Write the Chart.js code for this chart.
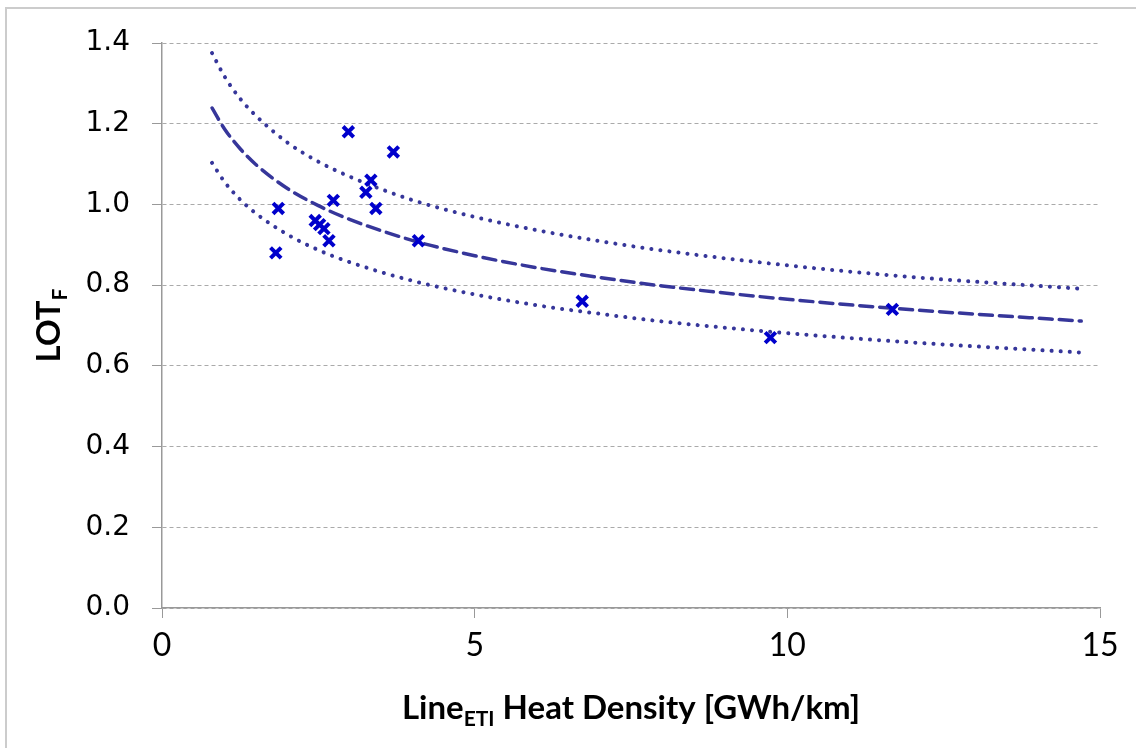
<!DOCTYPE html>
<html>
<head>
<meta charset="utf-8">
<script src="https://cdn.jsdelivr.net/npm/chart.js@4.4.1/dist/chart.umd.min.js"></script>
<style>
  html, body { margin: 0; padding: 0; background: #fff; }
  #wrap { width: 1136px; height: 748px; position: relative; }
</style>
</head>
<body>
<div id="wrap"><canvas id="myChart" width="1136" height="748"></canvas></div>
<script>
// measured points (heat density, LOT_F)
const densityX = [2.98, 3.70, 3.34, 3.26, 3.42, 2.74, 1.86, 1.82, 2.45, 2.52, 2.59, 2.67, 4.10, 6.72, 9.73, 11.68]
const lotY = [1.18, 1.13, 1.06, 1.03, 0.99, 1.01, 0.99, 0.88, 0.96, 0.95, 0.94, 0.91, 0.91, 0.76, 0.67, 0.74]

// trend curves
const curveX = [0.8, 1, 1.25, 1.5, 2, 2.5, 3, 4, 5, 6, 7, 8, 10, 12, 14.7]
const fitMid = [1.239, 1.187, 1.138, 1.099, 1.040, 0.997, 0.963, 0.911, 0.873, 0.843, 0.819, 0.798, 0.765, 0.739, 0.711]
const fitUpper = [1.375, 1.317, 1.262, 1.220, 1.154, 1.106, 1.069, 1.011, 0.969, 0.936, 0.909, 0.886, 0.849, 0.820, 0.791]
const fitLower = [1.103, 1.056, 1.012, 0.978, 0.926, 0.887, 0.857, 0.811, 0.777, 0.750, 0.729, 0.710, 0.681, 0.658, 0.633]

const xTicks = [0, 5, 10, 15]
const yTicks = [0, 0.2, 0.4, 0.6, 0.8, 1.0, 1.2, 1.4]

const CURVE_COLOR = '#36369a'
const MARK_COLOR = '#0000cc'

function toPoints(xs, ys) {
    return xs.map(function (x, i) { return { x: x, y: ys[i] } })
}

function curve(label, ys, dash, width) {
    return {
        type: 'line',
        label: label,
        data: toPoints(curveX, ys),
        borderColor: CURVE_COLOR,
        borderWidth: width,
        borderDash: dash,
        borderCapStyle: 'round',
        cubicInterpolationMode: 'monotone',
        pointRadius: 0,
        fill: false
    }
}

// frame + subscripted axis titles drawn as canvas text
const decor = {
    id: 'decor',
    afterDraw(chart) {
        const ctx = chart.ctx
        const area = chart.chartArea
        ctx.save()
        ctx.strokeStyle = '#cccccc'
        ctx.lineWidth = 2
        ctx.beginPath()
        ctx.moveTo(6, 748)
        ctx.lineTo(6, 8)
        ctx.lineTo(1136, 8)
        ctx.stroke()

        ctx.fillStyle = '#000'
        ctx.textBaseline = 'alphabetic'
        // x title
        const big = 'bold 33px Lato, "Open Sans", sans-serif'
        const small = 'bold 21px Lato, "Open Sans", sans-serif'
        const parts = [['Line', big, 0], ['ETI', small, 7], [' Heat Density [GWh/km]', big, 0]]
        let total = 0
        parts.forEach(function (p) { ctx.font = p[1]; total += ctx.measureText(p[0]).width })
        let x = (area.left + area.right) / 2 - total / 2
        const base = 719
        parts.forEach(function (p) {
            ctx.font = p[1]
            ctx.fillText(p[0], x, base + p[2])
            x += ctx.measureText(p[0]).width
        })

        // y title, rotated
        ctx.translate(50, (area.top + area.bottom) / 2)
        ctx.rotate(-Math.PI / 2)
        const yparts = [['LOT', big, 0], ['F', small, 7]]
        total = 0
        yparts.forEach(function (p) { ctx.font = p[1]; total += ctx.measureText(p[0]).width })
        x = -total / 2
        yparts.forEach(function (p) {
            ctx.font = p[1]
            ctx.fillText(p[0], x, 10 + p[2])
            x += ctx.measureText(p[0]).width
        })
        ctx.restore()
    }
}

new Chart(document.getElementById('myChart'), {
    type: 'scatter',
    data: {
        datasets: [
            {
                label: 'Measured',
                data: toPoints(densityX, lotY),
                pointStyle: 'crossRot',
                pointRadius: 7.5,
                pointBorderWidth: 4,
                borderColor: MARK_COLOR,
                backgroundColor: MARK_COLOR
            },
            curve('Upper', fitUpper, [0.1, 9], 4),
            curve('Fit', fitMid, [13, 7], 3.5),
            curve('Lower', fitLower, [0.1, 9], 4)
        ]
    },
    options: {
        responsive: false,
        animation: false,
        events: [],
        layout: { padding: { left: 0, right: 36, top: 43, bottom: 0 } },
        plugins: { legend: { display: false }, tooltip: { enabled: false } },
        scales: {
            x: {
                type: 'linear',
                min: 0,
                max: 15,
                afterBuildTicks: function (scale) { scale.ticks = xTicks.map(function (v) { return { value: v } }) },
                afterFit: function (scale) { scale.height = 140 },
                border: { display: true, color: '#999', width: 1.5 },
                grid: { drawOnChartArea: false, drawTicks: true, tickLength: 10, color: '#999' },
                ticks: {
                    color: '#000',
                    padding: 8,
                    font: { family: 'Lato, "Open Sans", sans-serif', size: 32 }
                }
            },
            y: {
                min: 0,
                max: 1.4,
                afterBuildTicks: function (scale) { scale.ticks = yTicks.map(function (v) { return { value: v } }) },
                afterFit: function (scale) { scale.width = 162 },
                border: { display: true, color: '#999', width: 1.5, dash: [4, 3] },
                grid: {
                    color: '#aaaaaa',
                    lineWidth: 1,
                    tickLength: 10,
                    tickColor: '#999',
                    tickBorderDash: [],
                    drawTicks: true
                },
                ticks: {
                    color: '#000',
                    padding: 22,
                    font: { family: '"DejaVu Sans", sans-serif', size: 28 },
                    callback: function (v) { return Number(v).toFixed(1) }
                }
            }
        }
    },
    plugins: [decor]
});
</script>
</body>
</html>
